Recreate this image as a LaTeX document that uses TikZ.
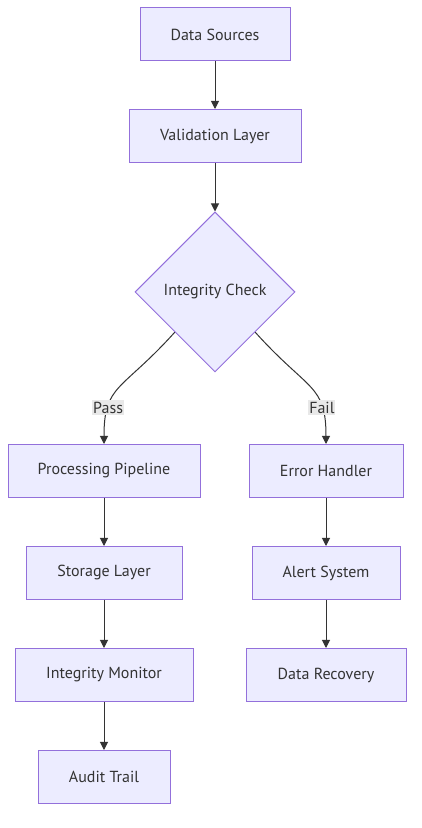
\documentclass[tikz,border=0pt]{standalone}
\usepackage{fontspec}
\setmainfont{PT Sans}
\usetikzlibrary{shapes.geometric,arrows.meta,calc}
\definecolor{boxfill}{HTML}{ECECFF}
\definecolor{boxline}{HTML}{9370DB}
\definecolor{ink}{HTML}{333333}
\definecolor{tagfill}{HTML}{E8E8E8}

\begin{document}
\begin{tikzpicture}[x=1pt,y=1pt,font=\fontsize{16}{19}\selectfont,
    box/.style={draw=boxline,fill=boxfill,text=ink,line width=1pt,minimum height=53pt,inner sep=0pt},
    check/.style={box,diamond,minimum width=160pt,minimum height=160pt},
    flow/.style={draw=ink,line width=1pt,-{Triangle[length=8pt,width=8pt]}},
    tag/.style={fill=tagfill,text=ink,inner xsep=1pt,inner ysep=2pt}]
    \useasboundingbox (0,0) rectangle (422,828);

    \node [box,minimum width=150pt] (src) at (215,793.5) {Data Sources};
    \node [box,minimum width=172pt] (val) at (215,692) {Validation Layer};
    \node [check] (chk) at (215,536) {Integrity Check};

    \node [box,minimum width=192pt] (pipe) at (104,357) {Processing Pipeline};
    \node [box,minimum width=156pt] (store) at (104,255) {Storage Layer};
    \node [box,minimum width=178pt] (mon) at (104,153) {Integrity Monitor};
    \node [box,minimum width=132pt] (audit) at (104,51) {Audit Trail};

    \node [box,minimum width=154pt] (err) at (326,357) {Error Handler};
    \node [box,minimum width=148pt] (alert) at (326,255) {Alert System};
    \node [box,minimum width=160pt] (rec) at (326,153) {Data Recovery};

    \coordinate (passout) at ($(chk.west)!.5!(chk.south)$);
    \coordinate (failout) at ($(chk.east)!.5!(chk.south)$);

    \draw [flow] (src) -- (val);
    \draw [flow] (val) -- (chk);
    \draw [flow] (passout) to[out=-132,in=90,out distance=80pt,in distance=60pt] node[tag,pos=.73] {Pass} (pipe.north);
    \draw [flow] (failout) to[out=-48,in=90,out distance=80pt,in distance=60pt] node[tag,pos=.73] {Fail} (err.north);
    \draw [flow] (pipe) -- (store);
    \draw [flow] (store) -- (mon);
    \draw [flow] (mon) -- (audit);
    \draw [flow] (err) -- (alert);
    \draw [flow] (alert) -- (rec);
\end{tikzpicture}
\end{document}
